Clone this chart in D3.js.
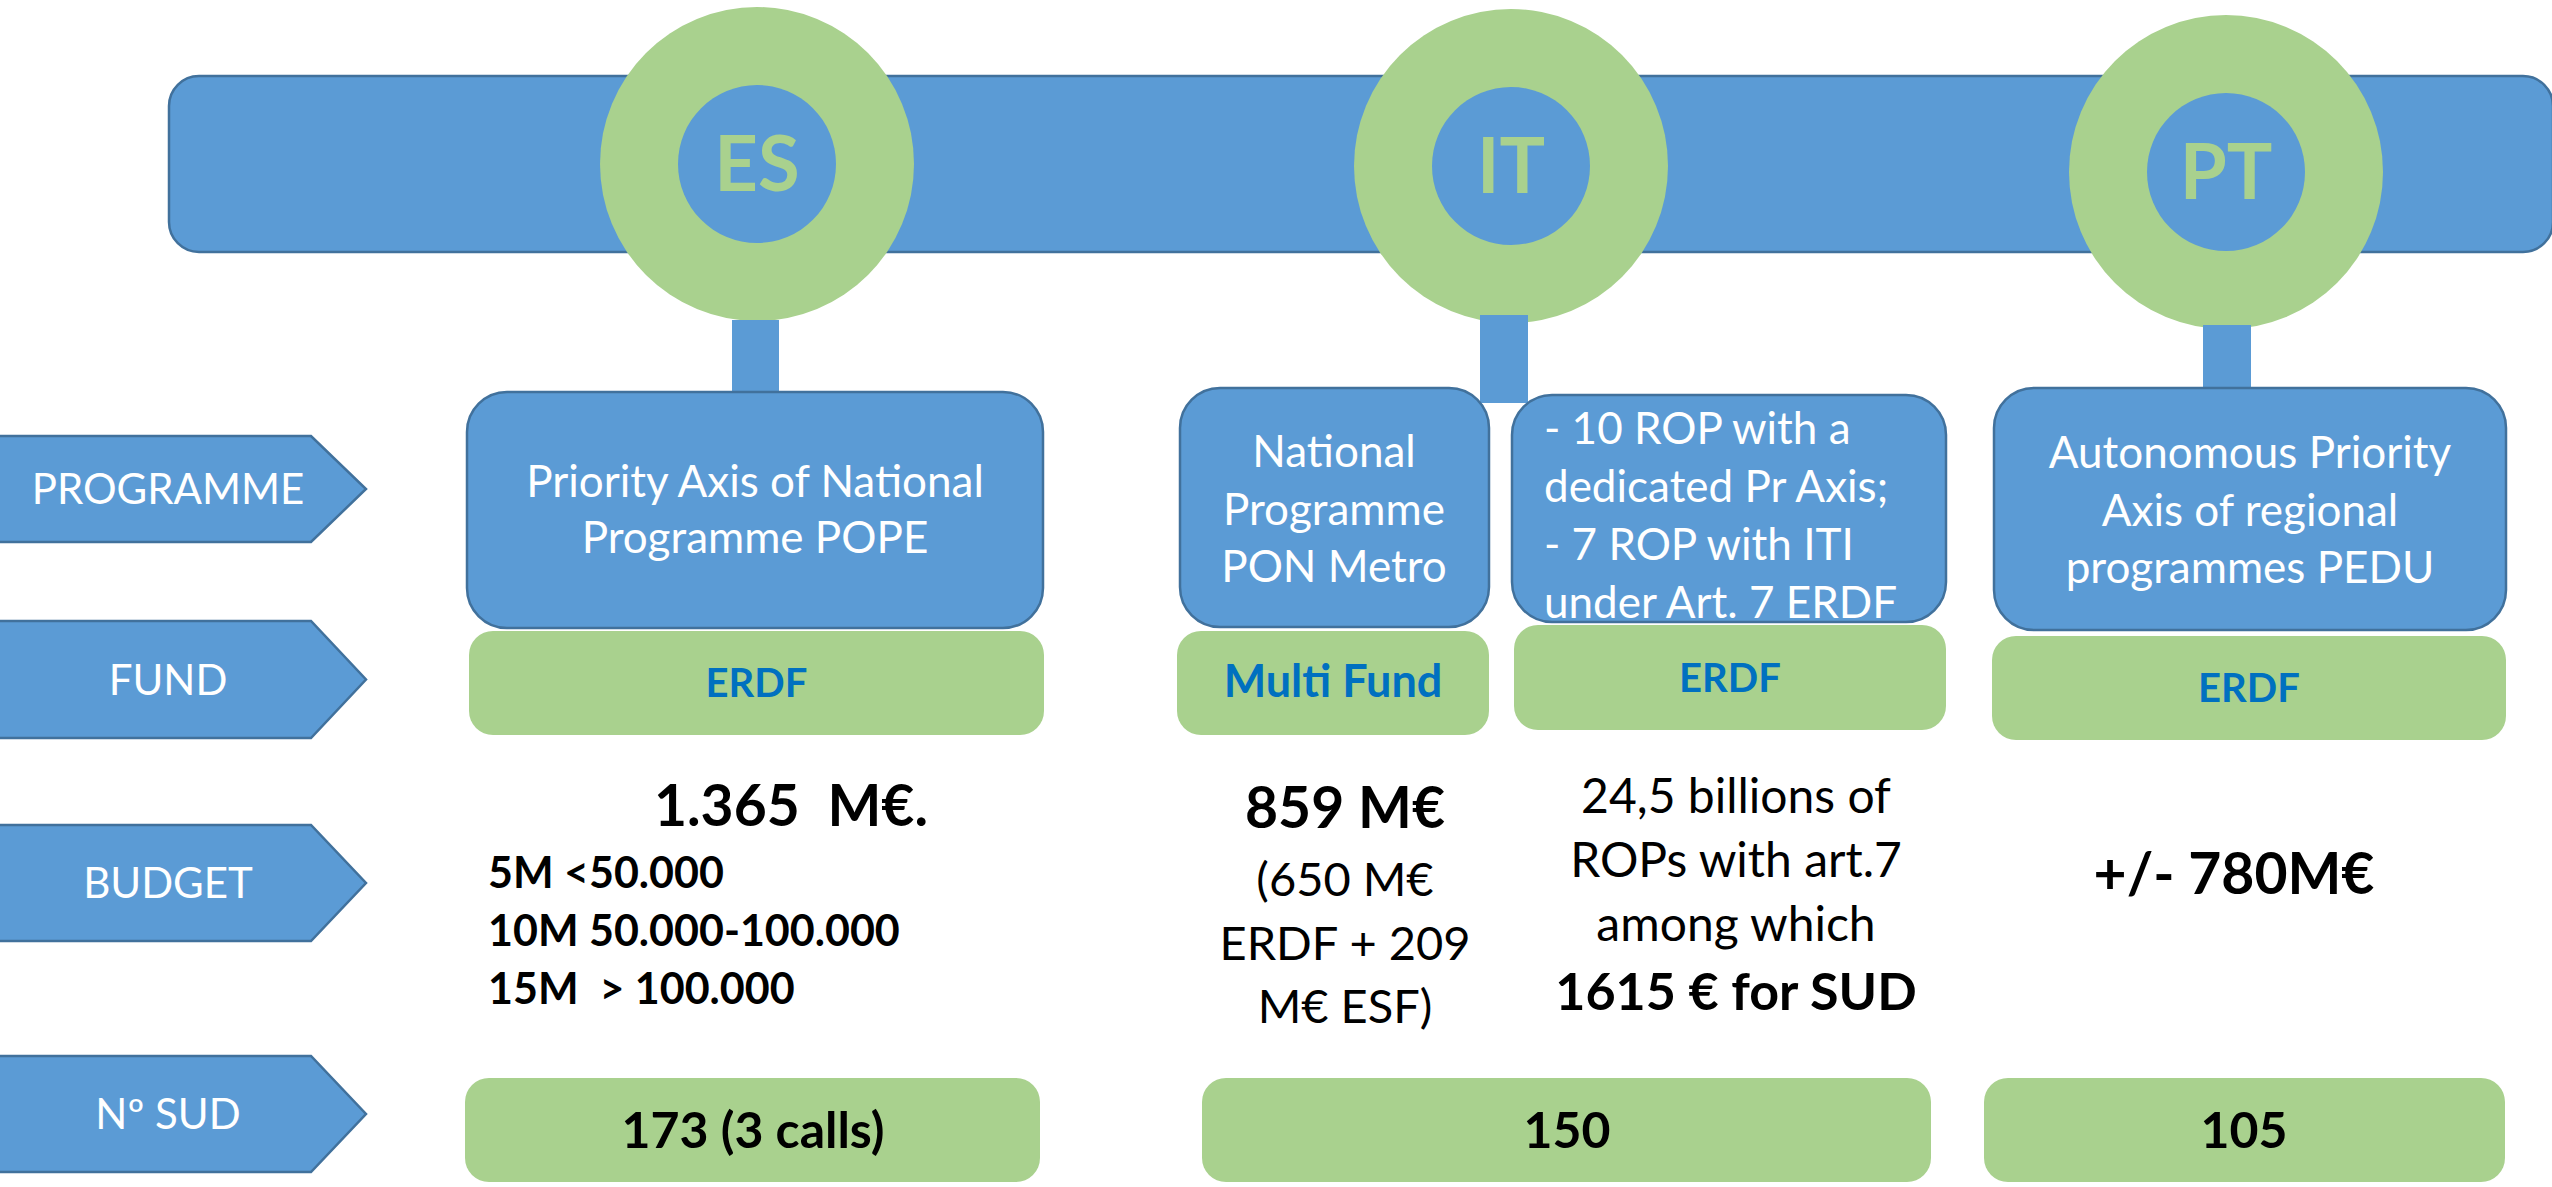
<!DOCTYPE html>
<html>
<head>
<meta charset="utf-8">
<script src="https://cdn.jsdelivr.net/npm/d3@7"></script>
<style>
  html, body { margin: 0; padding: 0; background: #ffffff; }
  svg text { font-family: Lato, "Open Sans", sans-serif; white-space: pre; }
</style>
</head>
<body>
<svg id="chart" width="2552" height="1187"></svg>
<script>
// ---------------- data ----------------
const countries = ["ES", "IT", "PT"];
const rowLabels = ["PROGRAMME", "FUND", "BUDGET", "Nº SUD"];
const programmeTexts = [
  ["Priority Axis of National", "Programme POPE"],
  ["National", "Programme", "PON Metro"],
  ["- 10 ROP with a", "dedicated Pr Axis;", "- 7 ROP with ITI", "under Art. 7 ERDF"],
  ["Autonomous Priority", "Axis of regional", "programmes PEDU"]
];
const fundTexts = ["ERDF", "Multi Fund", "ERDF", "ERDF"];
const budgetHeadlines = ["1.365  M€.", "859 M€", "", "+/- 780M€"];
const budgetDetails = [
  ["5M <50.000", "10M 50.000-100.000", "15M  > 100.000"],
  ["(650 M€", "ERDF + 209", "M€ ESF)"],
  ["24,5 billions of", "ROPs with art.7", "among which"],
  []
];
const budgetFootnotes = ["", "", "1615 € for SUD", ""];
const sudTexts = ["173 (3 calls)", "150", "105"];

// ---------------- style ----------------
const BLUE = "#5B9BD5", BLUE_STROKE = "#41719C", GREEN = "#A9D18E", TXT_BLUE = "#0070C0";
const CAP = 0.72; // Lato cap-height ratio

const svg = d3.select("#chart");

// ---------------- layout ----------------
const circleLayout = [
  { cx: 757, cy: 164, stem: [732, 320, 47, 72] },
  { cx: 1511, cy: 166, stem: [1480, 315, 48, 88] },
  { cx: 2226, cy: 172, stem: [2203, 325, 48, 63] }
];
const rowBands = [[436, 542], [621, 738], [825, 941], [1056, 1172]];
const progBoxes = [
  [467, 392, 576, 236], [1180, 388, 309, 239], [1512, 395, 434, 227], [1994, 388, 512, 242]
];
const fundBoxes = [
  [469, 631, 575, 104], [1177, 631, 312, 104], [1514, 625, 432, 105], [1992, 636, 514, 104]
];
const fundSizes = [40, 45, 40, 40];
const sudBoxes = [[465, 1078, 575, 104], [1202, 1078, 729, 104], [1984, 1078, 521, 104]];

// top bar
svg.append("rect")
  .attr("x", 169).attr("y", 76).attr("width", 2384).attr("height", 176)
  .attr("rx", 30).attr("fill", BLUE).attr("stroke", BLUE_STROKE).attr("stroke-width", 2.5);

// circles
const cg = svg.selectAll("g.country").data(countries).join("g").attr("class", "country");
cg.append("circle")
  .attr("cx", (d, i) => circleLayout[i].cx).attr("cy", (d, i) => circleLayout[i].cy)
  .attr("r", 157).attr("fill", GREEN);
cg.append("circle")
  .attr("cx", (d, i) => circleLayout[i].cx).attr("cy", (d, i) => circleLayout[i].cy)
  .attr("r", 79).attr("fill", BLUE);
cg.append("text")
  .attr("x", (d, i) => circleLayout[i].cx)
  .attr("y", (d, i) => circleLayout[i].cy + 76 * CAP / 2)
  .attr("text-anchor", "middle").attr("font-size", 76).attr("font-weight", 700)
  .attr("fill", GREEN).text(d => d);

// row labels (pentagon arrows)
const lg = svg.selectAll("g.rowlabel").data(rowLabels).join("g").attr("class", "rowlabel");
lg.append("path")
  .attr("d", (d, i) => {
    const [y0, y1] = rowBands[i], m = (y0 + y1) / 2;
    return d3.line()([[-3, y0], [311, y0], [366, m], [311, y1], [-3, y1]]) + "Z";
  })
  .attr("fill", BLUE).attr("stroke", BLUE_STROKE).attr("stroke-width", 2.5);
lg.append("text")
  .attr("x", 168)
  .attr("y", (d, i) => (rowBands[i][0] + rowBands[i][1]) / 2 + 42 * CAP / 2)
  .attr("text-anchor", "middle").attr("font-size", 42).attr("fill", "#fff").text(d => d);

// programme boxes
const pg = svg.selectAll("g.prog").data(programmeTexts).join("g").attr("class", "prog");
pg.append("rect")
  .attr("x", (d, i) => progBoxes[i][0]).attr("y", (d, i) => progBoxes[i][1])
  .attr("width", (d, i) => progBoxes[i][2]).attr("height", (d, i) => progBoxes[i][3])
  .attr("rx", 40).attr("fill", BLUE).attr("stroke", BLUE_STROKE).attr("stroke-width", 2.5);
const progTextPos = [
  { x: 755, y0: 497, dy: 56, anchor: "middle", size: 44 },
  { x: 1334, y0: 467, dy: 57.5, anchor: "middle", size: 44 },
  { x: 1544, y0: 444, dy: 58, anchor: "start", size: 44 },
  { x: 2250, y0: 468, dy: 57.5, anchor: "middle", size: 44 }
];
pg.each(function (lines, i) {
  const p = progTextPos[i];
  d3.select(this).selectAll("text").data(lines).join("text")
    .attr("x", p.x).attr("y", (d, j) => p.y0 + j * p.dy)
    .attr("text-anchor", p.anchor).attr("font-size", p.size).attr("fill", "#fff").text(d => d);
});

// stems
cg.append("rect")
  .attr("x", (d, i) => circleLayout[i].stem[0]).attr("y", (d, i) => circleLayout[i].stem[1])
  .attr("width", (d, i) => circleLayout[i].stem[2]).attr("height", (d, i) => circleLayout[i].stem[3])
  .attr("fill", BLUE);

// fund boxes
const fg = svg.selectAll("g.fund").data(fundTexts).join("g").attr("class", "fund");
fg.append("rect")
  .attr("x", (d, i) => fundBoxes[i][0]).attr("y", (d, i) => fundBoxes[i][1])
  .attr("width", (d, i) => fundBoxes[i][2]).attr("height", (d, i) => fundBoxes[i][3])
  .attr("rx", 24).attr("fill", GREEN);
fg.append("text")
  .attr("x", (d, i) => fundBoxes[i][0] + fundBoxes[i][2] / 2)
  .attr("y", (d, i) => fundBoxes[i][1] + fundBoxes[i][3] / 2 + 40 * CAP / 2)
  .attr("text-anchor", "middle").attr("font-size", (d, i) => fundSizes[i]).attr("font-weight", 700)
  .attr("fill", TXT_BLUE).text(d => d);

// budget
const budgetPos = [
  { hx: 791, hy: 826, hs: 57, dx: 488, dy0: 888, ddy: 58, ds: 43, dw: 700, anchor: "start" },
  { hx: 1345, hy: 828, hs: 57, dx: 1345, dy0: 896, ddy: 63.5, ds: 47, dw: 400, anchor: "middle" },
  { hx: 1736, hy: 0, hs: 0, dx: 1736, dy0: 813, ddy: 64, ds: 48, dw: 400, anchor: "middle", fy: 1010, fs: 52 },
  { hx: 2234, hy: 894, hs: 57, dx: 0, dy0: 0, ddy: 0, ds: 0, dw: 400, anchor: "middle" }
];
const bg = svg.selectAll("g.budget").data(budgetHeadlines).join("g").attr("class", "budget");
bg.each(function (h, i) {
  const p = budgetPos[i], g = d3.select(this);
  if (h) g.append("text").attr("x", p.hx).attr("y", p.hy).attr("text-anchor", "middle")
    .attr("font-size", p.hs).attr("font-weight", 700).attr("fill", "#000").text(h);
  g.selectAll("text.det").data(budgetDetails[i]).join("text").attr("class", "det")
    .attr("x", p.dx).attr("y", (d, j) => p.dy0 + j * p.ddy)
    .attr("text-anchor", p.anchor).attr("font-size", p.ds).attr("font-weight", p.dw)
    .attr("fill", "#000").text(d => d);
  if (budgetFootnotes[i]) g.append("text").attr("x", p.dx).attr("y", p.fy)
    .attr("text-anchor", "middle").attr("font-size", p.fs).attr("font-weight", 700)
    .attr("fill", "#000").text(budgetFootnotes[i]);
});

// SUD boxes
const sg = svg.selectAll("g.sud").data(sudTexts).join("g").attr("class", "sud");
sg.append("rect")
  .attr("x", (d, i) => sudBoxes[i][0]).attr("y", (d, i) => sudBoxes[i][1])
  .attr("width", (d, i) => sudBoxes[i][2]).attr("height", (d, i) => sudBoxes[i][3])
  .attr("rx", 24).attr("fill", GREEN);
sg.append("text")
  .attr("x", (d, i) => [753, 1567, 2244][i])
  .attr("y", 1148)
  .attr("text-anchor", "middle").attr("font-size", 50).attr("font-weight", 700)
  .attr("fill", "#000").text(d => d);
</script>
</body>
</html>
